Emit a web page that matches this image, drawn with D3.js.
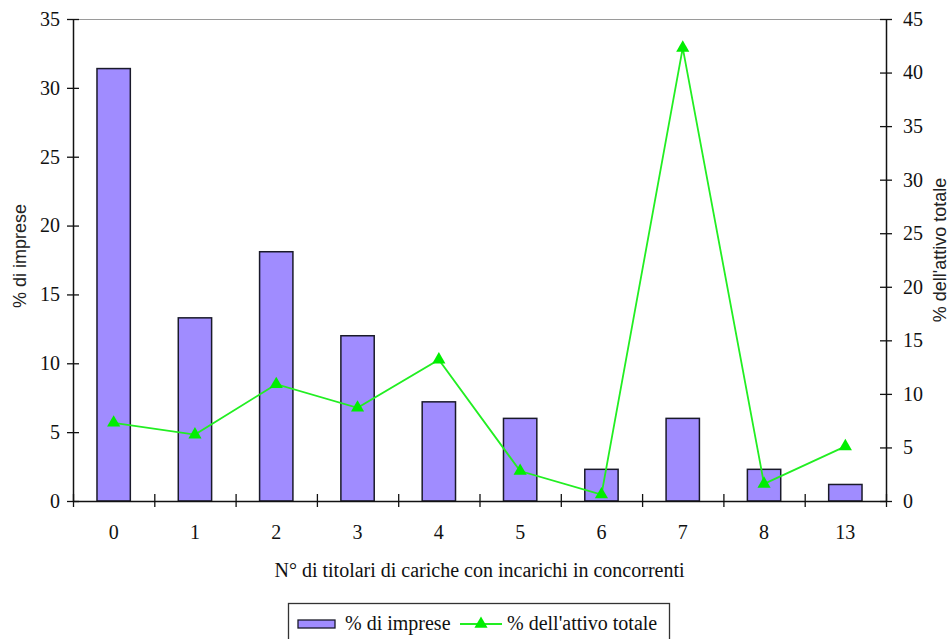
<!DOCTYPE html>
<html>
<head>
<meta charset="utf-8">
<script src="https://cdn.jsdelivr.net/npm/d3@7"></script>
<style>
  html, body { margin: 0; padding: 0; background: #fff; }
  svg { display: block; }
  .serif { font-family: "Liberation Serif", Tinos, "Times New Roman", Times, "DejaVu Serif", serif; }
  .sans { font-family: "Liberation Sans", Arimo, Arial, sans-serif; }
</style>
</head>
<body>
<svg id="chart" width="951" height="639"></svg>
<script>
// Number of office holders with posts in competing firms
const categories = ["0", "1", "2", "3", "4", "5", "6", "7", "8", "13"];
// % of firms (left axis, bars)
const pctImprese = [31.4, 13.3, 18.1, 12.0, 7.2, 6.0, 2.3, 6.0, 2.3, 1.2];
// % of total assets (right axis, line)
const pctAttivo = [7.3, 6.2, 10.9, 8.7, 13.2, 2.8, 0.6, 42.3, 1.6, 5.1];
const leftTicks = [0, 5, 10, 15, 20, 25, 30, 35];
const rightTicks = [0, 5, 10, 15, 20, 25, 30, 35, 40, 45];

const svg = d3.select("#chart");
const m = { left: 73, right: 886, top: 19, bottom: 501 };

const x = d3.scaleBand().domain(categories).range([m.left, m.right])
  .paddingInner(0.59).paddingOuter(0.295);
const xEdges = d3.scaleLinear().domain([0, categories.length]).range([m.left, m.right]);
const yL = d3.scaleLinear().domain([0, 35]).range([m.bottom, m.top]);
const yR = d3.scaleLinear().domain([0, 45]).range([m.bottom, m.top]);

// top border of the plot area
svg.append("line")
  .attr("x1", m.left).attr("x2", m.right)
  .attr("y1", m.top + 0.5).attr("y2", m.top + 0.5)
  .attr("stroke", "#9a9a9a").attr("stroke-width", 1.2);

// bars
svg.append("g").selectAll("rect").data(pctImprese).join("rect")
  .attr("x", (d, i) => x(categories[i]))
  .attr("width", x.bandwidth())
  .attr("y", d => yL(d))
  .attr("height", d => yL(0) - yL(d))
  .attr("fill", "#a08cff")
  .attr("stroke", "#1a1a2a")
  .attr("stroke-width", 1.5);

function styleAxis(g) {
  g.attr("font-family", null);
  g.select(".domain").attr("stroke", "#111").attr("stroke-width", 1.5);
  g.selectAll(".tick line").attr("stroke", "#111").attr("stroke-width", 1.3);
  g.selectAll(".tick text").attr("class", "serif")
    .style("font-size", "20px").attr("fill", "#111");
}

// left axis
const gL = svg.append("g").attr("transform", `translate(${m.left},0)`)
  .call(d3.axisLeft(yL).tickValues(leftTicks).tickSize(6).tickPadding(7).tickSizeOuter(0));
styleAxis(gL);
gL.selectAll(".tick line").attr("x1", 6);

// right axis
const gR = svg.append("g").attr("transform", `translate(${m.right},0)`)
  .call(d3.axisRight(yR).tickValues(rightTicks).tickSize(6).tickPadding(11).tickSizeOuter(0));
styleAxis(gR);
gR.selectAll(".tick line").attr("x1", -6);

// bottom axis: tick marks on category boundaries
const gB = svg.append("g").attr("transform", `translate(0,${m.bottom})`)
  .call(d3.axisBottom(xEdges).ticks(categories.length).tickSize(6).tickFormat("").tickSizeOuter(0));
styleAxis(gB);
gB.selectAll(".tick line").attr("y1", -7);

// bottom axis: category labels
const gBL = svg.append("g").attr("transform", `translate(0,${m.bottom})`)
  .call(d3.axisBottom(x).tickSize(0).tickPadding(24));
gBL.select(".domain").remove();
styleAxis(gBL);

// line series
const cx = c => x(c) + x.bandwidth() / 2;
const line = d3.line().x((d, i) => cx(categories[i])).y(d => yR(d));
svg.append("path").datum(pctAttivo)
  .attr("d", line).attr("fill", "none")
  .attr("stroke", "#22ee22").attr("stroke-width", 1.8);

const tri = d3.symbol().type(d3.symbolTriangle).size(75);
svg.append("g").selectAll("path").data(pctAttivo).join("path")
  .attr("d", tri)
  .attr("transform", (d, i) => `translate(${cx(categories[i])},${yR(d)})`)
  .attr("fill", "#00ee00");

// axis titles
svg.append("text").attr("class", "sans")
  .attr("transform", `translate(26,${(m.top + m.bottom) / 2 - 4}) rotate(-90)`)
  .attr("text-anchor", "middle")
  .style("font-size", "18px").attr("fill", "#222")
  .text("% di imprese");

svg.append("text").attr("class", "sans")
  .attr("transform", `translate(946,${(m.top + m.bottom) / 2 - 10}) rotate(-90)`)
  .attr("text-anchor", "middle")
  .style("font-size", "18px").attr("fill", "#222")
  .text("% dell'attivo totale");

svg.append("text").attr("class", "serif")
  .attr("x", (m.left + m.right) / 2).attr("y", 577)
  .attr("text-anchor", "middle")
  .style("font-size", "20px").attr("fill", "#111")
  .text("N° di titolari di cariche con incarichi in concorrenti");

// legend
const lg = svg.append("g");
lg.append("rect").attr("x", 288.5).attr("y", 603.5).attr("width", 381).attr("height", 40)
  .attr("fill", "#fff").attr("stroke", "#333").attr("stroke-width", 1.3);
lg.append("rect").attr("x", 298).attr("y", 620).attr("width", 37).attr("height", 8)
  .attr("fill", "#a08cff").attr("stroke", "#1a1a2a").attr("stroke-width", 1.3);
lg.append("text").attr("class", "serif").attr("x", 345).attr("y", 630)
  .style("font-size", "20px").attr("fill", "#111")
  .text("% di imprese");
lg.append("line").attr("x1", 460).attr("x2", 502).attr("y1", 624).attr("y2", 624)
  .attr("stroke", "#22ee22").attr("stroke-width", 1.8);
lg.append("path").attr("d", tri).attr("transform", "translate(481,624)").attr("fill", "#00ee00");
lg.append("text").attr("class", "serif").attr("x", 507).attr("y", 630)
  .style("font-size", "20px").attr("fill", "#111")
  .text("% dell'attivo totale");
</script>
</body>
</html>
